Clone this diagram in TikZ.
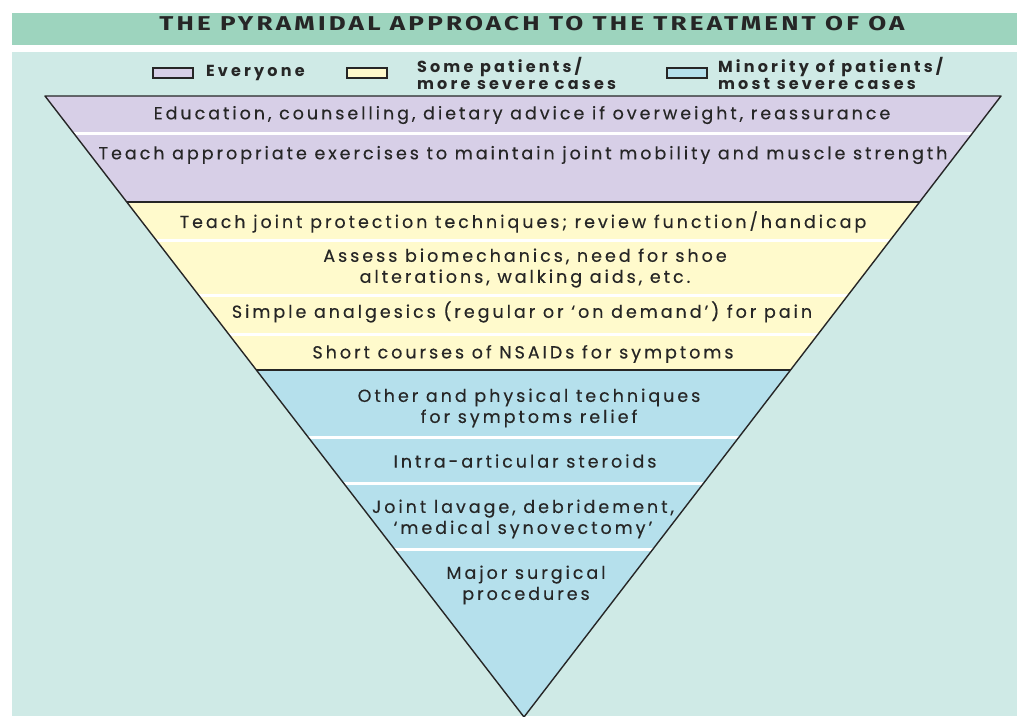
\documentclass[tikz,border=0pt]{standalone}
\usepackage{fontspec}
\setmainfont{Poppins}[LetterSpace=17, FakeBold=0.3]
\newfontfamily\headfont{Fira Sans}[LetterSpace=16, FakeStretch=1.3]
\newfontfamily\keyfont{Poppins}[LetterSpace=20]
\usetikzlibrary{positioning}
\definecolor{Band}{HTML}{9DD4BE}
\definecolor{Paper}{HTML}{CFEAE6}
\definecolor{Lilac}{HTML}{D7CFE7}
\definecolor{Cream}{HTML}{FFFACC}
\definecolor{Sky}{HTML}{B5E0EC}

\begin{document}
\begin{tikzpicture}[x=1pt, y=-1pt, font=\fontsize{17.5}{21}\selectfont]
\tikzset{row/.style={align=center, inner sep=0pt, text=black!85}, key/.style={draw=black!85, line width=1.6pt, minimum width=40pt, minimum height=10pt, inner sep=0pt}, keytext/.style={font=\keyfont\bfseries\fontsize{16}{17}\selectfont, align=left, inner sep=0pt, text=black!85}, seam/.style={white, line width=3pt}, rim/.style={black!85, line width=1.4pt}}
\useasboundingbox (0,0) rectangle (1017,716);
\fill[white] (0,0) rectangle (1017,716);
\fill[Band] (12,13) rectangle (1017,45);
\fill[Paper] (12,52) rectangle (1017,716);
\node[font=\headfont\bfseries\fontsize{20}{20}\selectfont, text=black!85] (title) at (532,24) {THE PYRAMIDAL APPROACH TO THE TREATMENT OF OA};
% legend
\node[key, fill=Lilac] (kall) at (173,73) {};
\node[keytext, right=12pt of kall] (tall) {Everyone};
\node[key, fill=Cream] (ksome) at (367,73) {};
\node[keytext, right=29pt of ksome] (tsome) {Some patients/\\more severe cases};
\node[key, fill=Sky] (kfew) at (687,73) {};
\node[keytext, right=10pt of kfew] (tfew) {Minority of patients/\\most severe cases};
% inverted pyramid, bands clipped to it
\coordinate (tl) at (45,96); \coordinate (tr) at (1001,96); \coordinate (tip) at (524,717);
\begin{scope}
\clip (tl) -- (tr) -- (tip) -- cycle;
\fill[Lilac] (0,96) rectangle (1017,202); \fill[Cream] (0,202) rectangle (1017,370); \fill[Sky] (0,370) rectangle (1017,717);
\foreach \y in {133,240,295,334,437,483,549} \draw[seam] (0,\y) -- (1017,\y);
\draw[rim] (0,202) -- (1017,202); \draw[rim] (0,370) -- (1017,370);
\end{scope}
\draw[rim, line join=round] (tl) -- (tr) -- (tip) -- cycle;
% rows
\node[row] (edu) at (522,115) {Education, counselling, dietary advice if overweight, reassurance};
\node[row] (exer) at (523,155) {Teach appropriate exercises to maintain joint mobility and muscle strength};
\node[row] (protect) at (523,222) {Teach joint protection techniques; review function/handicap};
\node[row] (biomech) at (525,268) {Assess biomechanics, need for shoe\\alterations, walking aids, etc.};
\node[row] (analg) at (522,312) {Simple analgesics (regular or ‘on demand’) for pain};
\node[row] (nsaid) at (523,354) {Short courses of NSAIDs for symptoms};
\node[row] (physical) at (529,408) {Other and physical techniques\\for symptoms relief};
\node[row] (steroid) at (525,461) {Intra-articular steroids};
\node[row] (lavage) at (523,519) {Joint lavage, debridement,\\‘medical synovectomy’};
\node[row] (surgery) at (526,585) {Major surgical\\procedures};
\end{tikzpicture}
\end{document}
